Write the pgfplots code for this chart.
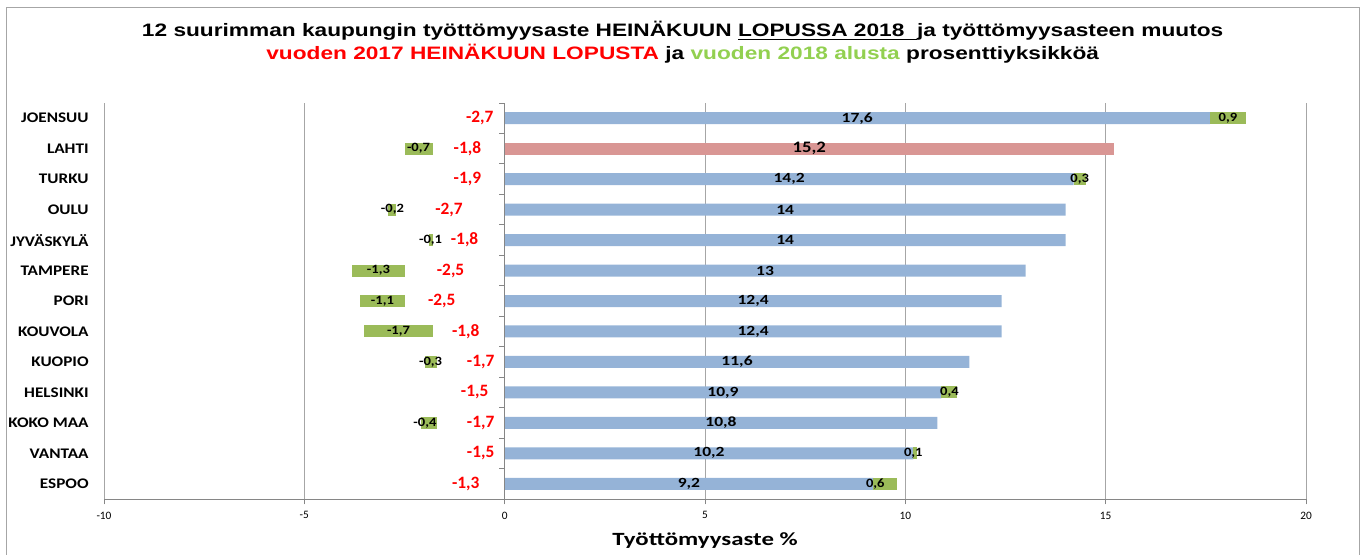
\documentclass[border=0pt]{standalone}
\usepackage{pgfplots}
\pgfplotsset{compat=1.18}
\usepackage{pgfplotstable}
\usepackage{fontspec}
\setmainfont{Carlito}
\newfontfamily\carlitoA[FakeStretch=1.17]{Carlito}
\newfontfamily\carlitoB[FakeStretch=1.25]{Carlito}
\newfontfamily\carlitoC[FakeStretch=1.33]{Carlito}
\newfontfamily\carlitoD[FakeStretch=1.15]{Carlito}
\newfontfamily\arialfont[FakeStretch=1.26]{Liberation Sans}
\definecolor{barblue}{HTML}{95B3D7}
\definecolor{barpink}{HTML}{D99694}
\definecolor{bargreen}{HTML}{9BBB59}
\definecolor{titlegreen}{HTML}{92D050}
\definecolor{gridgray}{HTML}{A6A6A6}
\definecolor{axgray}{HTML}{868686}

% y: 0 = JOENSUU (top) ... 12 = ESPOO (bottom)
\pgfplotstableread{
y rate bl
0 17.6 17,6
2 14.2 14,2
3 14.0 14
4 14.0 14
5 13.0 13
6 12.4 12,4
7 12.4 12,4
8 11.6 11,6
9 10.9 10,9
10 10.8 10,8
11 10.2 10,2
12 9.2 9,2
}\bluedata

\pgfplotstableread{
y rate bl
1 15.2 15,2
}\pinkdata

% change since July 2017 (red labels), label x position
\pgfplotstableread{
y c17 rx rl
0 -2.7 -0.62 -2,7
1 -1.8 -0.93 -1,8
2 -1.9 -0.93 -1,9
3 -2.7 -1.39 -2,7
4 -1.8 -1.00 -1,8
5 -2.5 -1.35 -2,5
6 -2.5 -1.57 -2,5
7 -1.8 -0.97 -1,8
8 -1.7 -0.60 -1,7
9 -1.5 -0.75 -1,5
10 -1.7 -0.60 -1,7
11 -1.5 -0.60 -1,5
12 -1.3 -0.97 -1,3
}\reddata

% change since start of 2018: segment start/end
\pgfplotstableread{
x y
17.6 0
18.5 0
nan nan
-1.8 1
-2.5 1
nan nan
14.2 2
14.5 2
nan nan
-2.7 3
-2.9 3
nan nan
-1.8 4
-1.9 4
nan nan
-2.5 5
-3.8 5
nan nan
-2.5 6
-3.6 6
nan nan
-1.8 7
-3.5 7
nan nan
-1.7 8
-2.0 8
nan nan
10.9 9
11.3 9
nan nan
-1.7 10
-2.1 10
nan nan
10.2 11
10.3 11
nan nan
9.2 12
9.8 12
}\greenseg

\pgfplotstableread{
y gx gl
0 18.05 0,9
1 -2.15 -0,7
2 14.35 0,3
3 -2.80 -0,2
4 -1.85 -0,1
5 -3.15 -1,3
6 -3.05 -1,1
7 -2.65 -1,7
8 -1.85 -0,3
9 11.10 0,4
10 -1.99 -0,4
11 10.20 0,1
12 9.25 0,6
}\greenlab

\begin{document}
\begin{tikzpicture}
\useasboundingbox (0,0) rectangle (1021.5pt,415.5pt);
\draw[color=gray!70, line width=0.75pt] (4.5pt,-5pt) rectangle (1019.25pt,409.5pt);
\begin{axis}[
  at={(78pt,41.25pt)}, anchor=south west,
  scale only axis, width=901.5pt, height=297pt,
  xmin=-10, xmax=20, ymin=-0.5, ymax=12.5,
  y dir=reverse,
  clip=false,
  axis x line*=bottom, axis y line*=left,
  y axis line style={draw=none},
  x axis line style={axgray, line width=0.75pt},
  xtick={-10,-5,0,5,10,15,20},
  xtick align=outside,
  xtick style={axgray, line width=0.75pt},
  major tick length=4pt,
  xmajorgrids,
  grid style={gridgray, line width=0.75pt},
  ytick={0,...,12},
  yticklabels={JOENSUU,LAHTI,TURKU,OULU,JYVÄSKYLÄ,TAMPERE,PORI,KOUVOLA,KUOPIO,HELSINKI,KOKO MAA,VANTAA,ESPOO},
  ytick style={draw=none},
  yticklabel style={font=\carlitoA\bfseries\fontsize{11}{12}\selectfont, anchor=east, xshift=-8pt},
  /pgf/number format/assume math mode=true,
  xticklabel style={font=\fontsize{8.5}{10}\selectfont, yshift=-2pt},
  xlabel={Työttömyysaste \%},
  xlabel style={font=\carlitoC\bfseries\fontsize{14}{16}\selectfont, at={(axis description cs:0.5,0)}, anchor=center, yshift=-31.5pt},
]
% blue bars
\addplot[xbar, bar width=9pt, bar shift=0pt, fill=barblue, draw=none]
  table[x=rate, y=y] {\bluedata};
% pink bar (LAHTI)
\addplot[xbar, bar width=9pt, bar shift=0pt, fill=barpink, draw=none]
  table[x=rate, y=y] {\pinkdata};
% green segments
\addplot[bargreen, line width=9pt, unbounded coords=jump, mark=none]
  table[x=x, y=y] {\greenseg};
% y axis line at 0 and its ticks between categories
\draw[axgray, line width=0.75pt] (axis cs:0,-0.5) -- (axis cs:0,12.5);
\addplot[only marks, mark=-, mark size=2.25pt,
  mark options={xshift=-2.25pt, draw=axgray, line width=0.75pt}]
  coordinates {(0,-0.5) (0,0.5) (0,1.5) (0,2.5) (0,3.5) (0,4.5) (0,5.5) (0,6.5)
  (0,7.5) (0,8.5) (0,9.5) (0,10.5) (0,11.5) (0,12.5)};
% blue labels
\addplot[draw=none, mark=none, nodes near coords, point meta=explicit symbolic,
  nodes near coords style={anchor=center, font=\carlitoB\bfseries\fontsize{10.5}{12}\selectfont, text=black}]
  table[x expr=\thisrow{rate}/2, y=y, meta=bl] {\bluedata};
\addplot[draw=none, mark=none, nodes near coords, point meta=explicit symbolic,
  nodes near coords style={anchor=center, font=\carlitoA\bfseries\fontsize{12}{14}\selectfont, text=black}]
  table[x expr=\thisrow{rate}/2, y=y, meta=bl] {\pinkdata};
% red labels
\addplot[draw=none, mark=none, nodes near coords, point meta=explicit symbolic,
  nodes near coords style={anchor=center, font=\bfseries\fontsize{13}{14}\selectfont, text=red}]
  table[x=rx, y=y, meta=rl] {\reddata};
% green labels
\addplot[draw=none, mark=none, nodes near coords, point meta=explicit symbolic,
  nodes near coords style={anchor=center, font=\carlitoD\bfseries\fontsize{9.5}{11}\selectfont, text=black}]
  table[x=gx, y=y, meta=gl] {\greenlab};
\end{axis}
\node[anchor=base, font=\arialfont\bfseries\fontsize{13.5}{15}\selectfont] at (512pt,387.75pt)
  {12 suurimman kaupungin työttömyysaste HEINÄKUUN \underline{LOPUSSA 2018\ \ }ja työttömyysasteen muutos};
\node[anchor=base, font=\arialfont\bfseries\fontsize{13.5}{15}\selectfont] at (512pt,370.5pt)
  {\textcolor{red}{vuoden 2017 HEINÄKUUN LOPUSTA} ja \textcolor{titlegreen}{vuoden 2018 alusta} prosenttiyksikköä};
\end{tikzpicture}
\end{document}
